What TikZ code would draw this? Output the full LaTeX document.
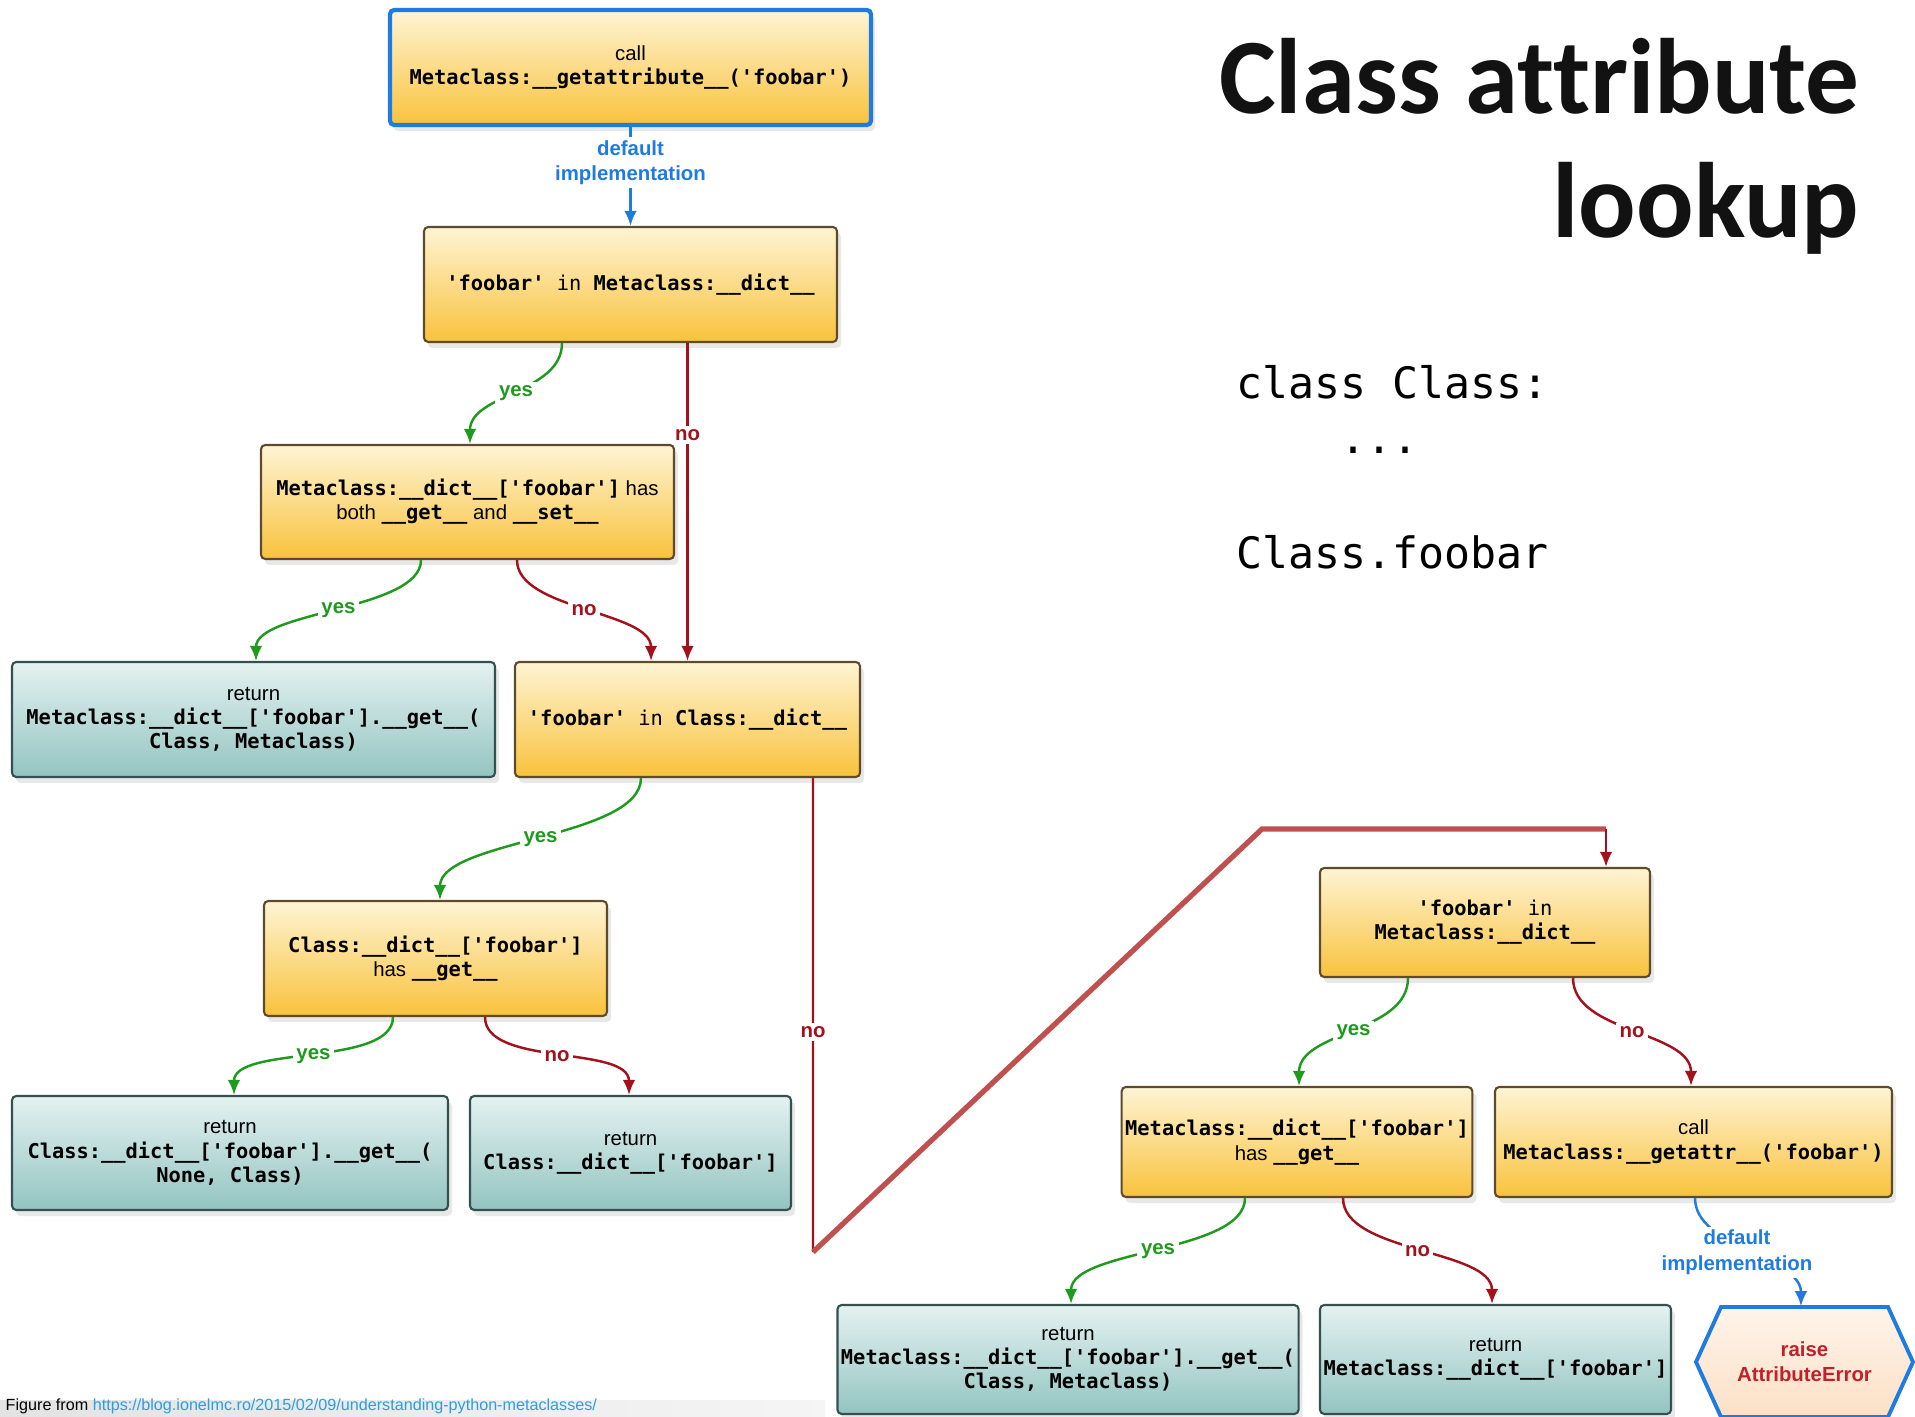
\documentclass[tikz,border=0pt]{standalone}
\usepackage{fontspec}
\setmainfont{Liberation Sans}
\setmonofont{DejaVu Sans Mono}
\newfontfamily\titlefont[Ligatures={NoCommon}]{Carlito}
\usetikzlibrary{arrows.meta,calc,shadows}

\definecolor{boxtop}{HTML}{FEF4D4}
\definecolor{boxbot}{HTML}{F9C23C}
\definecolor{boxline}{HTML}{5E4B2C}
\definecolor{rettop}{HTML}{E4F2F1}
\definecolor{retbot}{HTML}{93C4C1}
\definecolor{retline}{HTML}{34504F}
\definecolor{yesgreen}{HTML}{1E9A1E}
\definecolor{nored}{HTML}{A3121C}
\definecolor{implblue}{HTML}{1F7BE0}
\definecolor{handred}{HTML}{C0504D}
\definecolor{hextop}{HTML}{FEF4EA}
\definecolor{hexbot}{HTML}{FCE0C6}
\definecolor{errred}{HTML}{C0202A}
\definecolor{linkblue}{HTML}{2A9FE0}

\newcommand\flowfont{\fontsize{5.8pt}{6.9pt}\selectfont}
\newcommand\labfont{\fontsize{5.8pt}{7.2pt}\selectfont\bfseries}
\newcommand\pycode[1]{\texttt{\bfseries #1}}

\begin{document}
\begin{tikzpicture}[x=0.1mm,y=-0.1mm,>={Latex[length=4.3pt,width=3.6pt]},
	testbox/.style={draw=boxline, line width=0.6pt, rounded corners=1.2pt,
		top color=boxtop, bottom color=boxbot, align=center, font=\flowfont,
		inner sep=1pt, drop shadow={shadow xshift=0.4mm, shadow yshift=-0.6mm, opacity=0.18}},
	retbox/.style={testbox, draw=retline, top color=rettop, bottom color=retbot},
	callbox/.style={testbox, draw=implblue, line width=1.2pt},
	yesline/.style={draw=yesgreen, line width=0.7pt, ->},
	noline/.style={draw=nored, line width=0.7pt, ->},
	implline/.style={draw=implblue, line width=0.7pt, ->},
	handline/.style={draw=handred, line width=1.5pt},
	yeslab/.style={fill=white, inner sep=1pt, text=yesgreen, font=\labfont},
	nolab/.style={fill=white, inner sep=1pt, text=nored, font=\labfont},
	impllab/.style={fill=white, inner sep=1pt, text=implblue, font=\labfont, align=center},
	titletext/.style={inner sep=0pt, text=black!93, font=\titlefont\fontsize{30.5pt}{37pt}\selectfont\bfseries},
	codetext/.style={inner sep=0pt, font=\ttfamily\fontsize{12.3pt}{15pt}\selectfont}]

	% Fix the frame of the picture
	\clip (0,0) rectangle (1915,1417);

	% Draw the title and the code sample
	\node[titletext, anchor=base east] (title1) at (1860,114) {Class attribute};
	\node[titletext, anchor=base east] (title2) at (1860,238) {lookup};
	\node[codetext, anchor=base west] (code1) at (1236,399) {class Class:};
	\node[codetext, anchor=base west] (code2) at (1340,454) {...};
	\node[codetext, anchor=base west] (code3) at (1236,569) {Class.foobar};

	% Draw the class side of the lookup
	\node[callbox, minimum width=48.1mm, minimum height=11.5mm] (getattribute) at (630.5,67.5)
		{call\\\pycode{Metaclass:\_\_getattribute\_\_('foobar')}};
	\node[testbox, minimum width=41.3mm, minimum height=11.5mm] (inmeta) at (630.5,284.5)
		{\texttt{\textbf{'foobar'} in \textbf{Metaclass:\_\_dict\_\_}}};
	\node[testbox, minimum width=41.3mm, minimum height=11.4mm] (getset) at (467.5,502)
		{\pycode{Metaclass:\_\_dict\_\_['foobar']} has\\both \pycode{\_\_get\_\_} and \pycode{\_\_set\_\_}};
	\node[retbox, minimum width=48.3mm, minimum height=11.5mm] (retdata) at (253.5,719.5)
		{return\\\pycode{Metaclass:\_\_dict\_\_['foobar'].\_\_get\_\_(}\\\pycode{Class, Metaclass)}};
	\node[testbox, minimum width=34.5mm, minimum height=11.5mm] (inclass) at (687.5,719.5)
		{\texttt{\textbf{'foobar'} in \textbf{Class:\_\_dict\_\_}}};
	\node[testbox, minimum width=34.3mm, minimum height=11.5mm] (classget) at (435.5,958.5)
		{\pycode{Class:\_\_dict\_\_['foobar']}\\has \pycode{\_\_get\_\_}};
	\node[retbox, minimum width=43.6mm, minimum height=11.4mm] (retclassget) at (230,1153)
		{return\\\pycode{Class:\_\_dict\_\_['foobar'].\_\_get\_\_(}\\\pycode{None, Class)}};
	\node[retbox, minimum width=32.1mm, minimum height=11.4mm] (retclass) at (630.5,1153)
		{return\\\pycode{Class:\_\_dict\_\_['foobar']}};

	% Draw the metaclass side of the lookup
	\node[testbox, minimum width=33mm, minimum height=10.9mm] (inmeta2) at (1485,922.5)
		{\texttt{\textbf{'foobar'} in}\\\pycode{Metaclass:\_\_dict\_\_}};
	\node[testbox, minimum width=35mm, minimum height=11mm] (metaget) at (1297,1142)
		{\pycode{Metaclass:\_\_dict\_\_['foobar']}\\has \pycode{\_\_get\_\_}};
	\node[testbox, minimum width=39.7mm, minimum height=11mm] (getattr) at (1693.5,1142)
		{call\\\pycode{Metaclass:\_\_getattr\_\_('foobar')}};
	\node[retbox, minimum width=46mm, minimum height=10.9mm] (retmetaget) at (1068,1359.5)
		{return\\\pycode{Metaclass:\_\_dict\_\_['foobar'].\_\_get\_\_(}\\\pycode{Class, Metaclass)}};
	\node[retbox, minimum width=35.1mm, minimum height=10.9mm] (retmeta) at (1495.5,1359.5)
		{return\\\pycode{Metaclass:\_\_dict\_\_['foobar']}};

	% Draw the hexagon for the error
	\coordinate (hexc) at (1804.5,1362);
	\draw[draw=implblue, line width=1.1pt, top color=hextop, bottom color=hexbot]
		($(hexc)+(-83.5,-55)$) -- ($(hexc)+(83.5,-55)$) -- ($(hexc)+(108.5,0)$)
		-- ($(hexc)+(83.5,55)$) -- ($(hexc)+(-83.5,55)$) -- ($(hexc)+(-108.5,0)$) -- cycle;
	\node[inner sep=0pt, minimum height=11mm, align=center, text=errred, font=\labfont] (raise) at (hexc)
		{raise\\AttributeError};

	% Draw the default implementation arrows
	\draw[implline] (getattribute.south) -- (inmeta.north)
		node[pos=0.36, impllab] {default\\implementation};
	\draw[implline] ($(getattr.south)+(1.5,0)$) .. controls +(0,50) and +(0,-50) .. ($(raise.north)+(-3.5,0)$)
		node[pos=0.5, xshift=-1.1mm, impllab] {default\\implementation};

	% Draw the yes arrows
	\draw[yesline] ($(inmeta.south)+(-68.5,0)$) .. controls +(0,50) and +(0,-50) .. ($(getset.north)+(2.5,0)$)
		node[pos=0.5, yeslab] {yes};
	\draw[yesline] ($(getset.south)+(-46.5,0)$) .. controls +(0,50) and +(0,-50) .. ($(retdata.north)+(2.5,0)$)
		node[pos=0.5, yeslab] {yes};
	\draw[yesline] ($(inclass.south)+(-46.5,0)$) .. controls +(0,60) and +(0,-60) .. ($(classget.north)+(4.5,0)$)
		node[pos=0.5, yeslab] {yes};
	\draw[yesline] ($(classget.south)+(-42.5,0)$) .. controls +(0,50) and +(0,-50) .. ($(retclassget.north)+(4,0)$)
		node[pos=0.5, yeslab] {yes};
	\draw[yesline] ($(inmeta2.south)+(-77,0)$) .. controls +(0,55) and +(0,-55) .. ($(metaget.north)+(2,0)$)
		node[pos=0.5, yeslab] {yes};
	\draw[yesline] ($(metaget.south)+(-52,0)$) .. controls +(0,55) and +(0,-55) .. ($(retmetaget.north)+(3,0)$)
		node[pos=0.5, yeslab] {yes};

	% Draw the no arrows
	\draw[noline] (inclass.north |- inmeta.south) -- (inclass.north)
		node[pos=0.29, nolab] {no};
	\draw[noline] ($(getset.south)+(49.5,0)$) .. controls +(0,50) and +(0,-50) .. ($(inclass.north)+(-36.5,0)$)
		node[pos=0.5, nolab] {no};
	\draw[noline] ($(classget.south)+(49.5,0)$) .. controls +(0,50) and +(0,-50) .. ($(retclass.north)+(-1.5,0)$)
		node[pos=0.5, nolab] {no};
	\draw[noline] ($(inmeta2.south)+(88,0)$) .. controls +(0,55) and +(0,-55) .. ($(getattr.north)+(-2.5,0)$)
		node[pos=0.5, nolab] {no};
	\draw[noline] ($(metaget.south)+(46,0)$) .. controls +(0,55) and +(0,-55) .. ($(retmeta.north)+(-3.5,0)$)
		node[pos=0.5, nolab] {no};

	% Draw the long no path over to the metaclass
	\coordinate (turn1) at (813,1252);
	\coordinate (turn2) at (1262,829);
	\coordinate (turn3) at (1606,829);
	\draw[draw=nored, line width=0.7pt] ($(inclass.south)+(125.5,0)$) -- (turn1)
		node[pos=0.535, nolab] {no};
	\draw[handline] (turn1) -- (turn2) -- (turn3);
	\draw[noline] (turn3) -- (turn3 |- inmeta2.north);

	% Draw the source strip at the bottom
	\shade[left color=gray!22, right color=gray!8] (0,1400) rectangle (825,1417);
	\node[anchor=south west, inner sep=0pt, font=\fontsize{4.6pt}{5pt}\selectfont] (source) at (5,1415)
		{Figure from \textcolor{linkblue}{https://blog.ionelmc.ro/2015/02/09/understanding-python-metaclasses/}};

\end{tikzpicture}
\end{document}
